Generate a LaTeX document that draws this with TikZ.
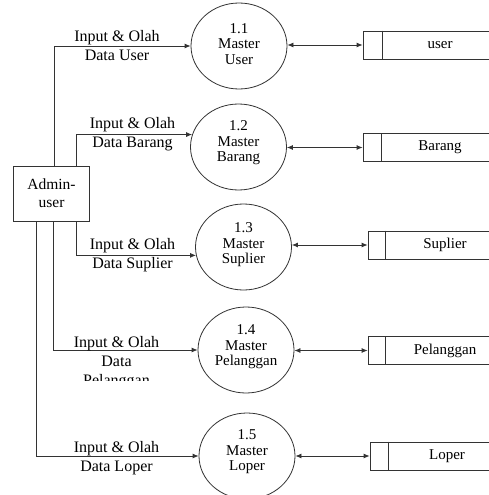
\documentclass[tikz,border=0pt]{standalone}
\usepackage{fontspec}
\setmainfont{Liberation Serif}
\usetikzlibrary{arrows.meta,calc,shapes.geometric}
\begin{document}
\begin{tikzpicture}[x=1pt,y=-1pt,
  line/.style={draw=black!80,line width=0.8pt},
  flow/.style={line,-{Latex[length=6pt,width=5pt]}},
  biflow/.style={line,{Latex[length=6pt,width=5pt]}-{Latex[length=6pt,width=5pt]}},
  proc/.style={ellipse,line,minimum width=96pt,minimum height=86pt,inner sep=0pt},
  ptext/.style={align=center,font=\fontsize{15}{15.5}\selectfont,inner sep=0pt},
  store/.style={rectangle,line,minimum width=154pt,minimum height=28pt,inner sep=0pt,font=\fontsize{15}{18}\selectfont},
  lbl/.style={align=center,font=\fontsize{16}{19}\selectfont,inner sep=0pt},
  entity/.style={rectangle,line,minimum width=76pt,minimum height=55pt,inner sep=0pt,align=center,font=\fontsize{15.5}{18}\selectfont}]
\clip (0,0) rectangle (489,495);
\fill[white] (0,0) rectangle (489,495);

% external entity
\node[entity] (box) at (51.5,193.5) {Admin-\\user};

% processes
\node[proc] (e1) at (239,46) {};
\node[proc] (e2) at (238.5,147) {};
\node[proc] (e3) at (243.5,247) {};
\node[proc] (e4) at (246,350) {};
\node[proc] (e5) at (247,456) {};
\node[ptext] (t1) at ([yshift=2pt]e1.center) {1.1\\Master\\User};
\node[ptext] (t2) at ([yshift=4pt]e2.center) {1.2\\Master\\Barang};
\node[ptext] (t3) at ([yshift=2pt]e3.center) {1.3\\Master\\Suplier};
\node[ptext] (t4) at ([yshift=3pt]e4.center) {1.4\\Master\\Pelanggan};
\node[ptext] (t5) at ([yshift=4pt]e5.center) {1.5\\Master\\Loper};

% data stores
\node[store] (s1) at (440,45) {user};
\node[store] (s2) at (440,147.5) {Barang};
\node[store] (s3) at (445,245) {Suplier};
\node[store] (s4) at (445,350.5) {Pelanggan};
\node[store] (s5) at (447,456) {Loper};
\draw[line] ([xshift=20pt]s1.north west) -- ([xshift=20pt]s1.south west);
\draw[line] ([xshift=19pt]s2.north west) -- ([xshift=19pt]s2.south west);
\draw[line] ([xshift=18pt]s3.north west) -- ([xshift=18pt]s3.south west);
\draw[line] ([xshift=18pt]s4.north west) -- ([xshift=18pt]s4.south west);
\draw[line] ([xshift=19pt]s5.north west) -- ([xshift=19pt]s5.south west);

% process <-> store
\draw[biflow] (s1.west -| e1.east) -- (s1.west);
\draw[biflow] (s2.west -| e2.east) -- (s2.west);
\draw[biflow] (s3.west -| e3.east) -- (s3.west);
\draw[biflow] (s4.west -| e4.east) -- (s4.west);
\draw[biflow] (s5.west -| e5.east) -- (s5.west);

% entity -> processes
\draw[flow] ([xshift=41.5pt]box.north west) |- (e1.west);
\draw[flow] ([xshift=63.5pt]box.north west) |- (e2.165);
\draw[flow] ([xshift=63.5pt]box.south west) |- (e3.190);
\draw[flow] ([xshift=40.5pt]box.south west) |- (e4.west);
\draw[flow] ([xshift=23.5pt]box.south west) |- (e5.west);

% flow labels
\node[lbl] (l1) at (117,45.5) {Input \& Olah\\Data User};
\node[lbl] (l2) at (132.5,134.5) {Input \& Olah\\Data Barang};
\node[lbl] (l3) at (132.5,255.5) {Input \& Olah\\Data Suplier};
\begin{scope}
\clip (0,0) rectangle (489,380.5);
\node[lbl] (l4) at (116.5,362.5) {Input \& Olah\\Data\\Pelanggan};
\end{scope}
\node[lbl] (l5) at (116.5,458) {Input \& Olah\\Data Loper};
\end{tikzpicture}
\end{document}
